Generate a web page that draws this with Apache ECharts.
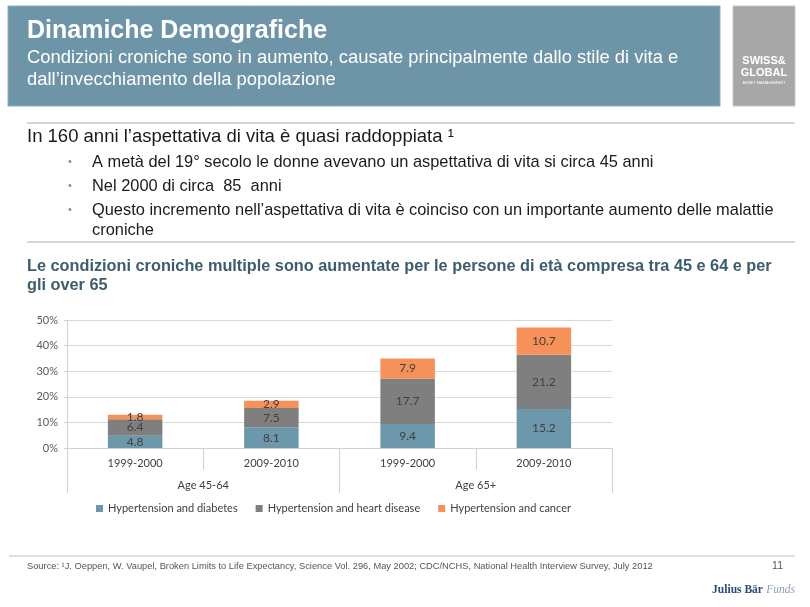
<!DOCTYPE html>
<html>
<head>
<meta charset="utf-8">
<script src="https://cdn.jsdelivr.net/npm/echarts@6/dist/echarts.min.js"></script>
<style>html,body{margin:0;padding:0;background:#fff}#c{width:810px;height:607px}</style>
</head>
<body>
<div id="c"></div>
<script>
var periods = ['1999-2000', '2009-2010', '1999-2000', '2009-2010'];
var groups = ['Age 45-64', 'Age 65+'];
var diabetes = [4.8, 8.1, 9.4, 15.2];
var heartDisease = [6.4, 7.5, 17.7, 21.2];
var cancer = [1.8, 2.9, 7.9, 10.7];
var seriesNames = ['Hypertension and diabetes', 'Hypertension and heart disease', 'Hypertension and cancer'];
var yTicks = [0, 10, 20, 30, 40, 50];

var SANS = '"Liberation Sans", Arial, sans-serif';
var CHART = 'Lato, "Open Sans", sans-serif';

function txt(x, y, text, size, color, weight, extra) {
  var s = {x: x, y: y, text: text, fill: color, font: (weight || 'normal') + ' ' + size + 'px ' + SANS, textVerticalAlign: 'middle'};
  if (extra) for (var k in extra) s[k] = extra[k];
  return {type: 'text', style: s, silent: true};
}
function line(x1, y1, x2, y2, color, w) {
  return {type: 'line', shape: {x1: x1, y1: y1, x2: x2, y2: y2}, style: {stroke: color, lineWidth: w || 1}, silent: true};
}

var chart = echarts.init(document.getElementById('c'));
var barLabel = {show: true, position: 'inside', color: '#404040', fontSize: 12, fontFamily: CHART};
chart.setOption({
  animation: false,
  graphic: [
    {type: 'rect', shape: {x: 8, y: 6, width: 712, height: 100}, style: {fill: '#6E94A8', stroke: '#8FAFC0', lineWidth: 1}, silent: true},
    {type: 'rect', shape: {x: 733, y: 6, width: 62, height: 100}, style: {fill: '#A7A7A7', stroke: '#C8C8C8', lineWidth: 1}, silent: true},
    txt(27, 31, 'Dinamiche Demografiche', 25, '#FFFFFF', 'bold'),
    txt(27, 58, 'Condizioni croniche sono in aumento, causate principalmente dallo stile di vita e', 18.4, '#FFFFFF'),
    txt(27, 80, 'dall\u2019invecchiamento della popolazione', 18.4, '#FFFFFF'),
    txt(764, 61, 'SWISS&', 11, '#FFFFFF', 'bold', {textAlign: 'center'}),
    txt(764, 73, 'GLOBAL', 11, '#FFFFFF', 'bold', {textAlign: 'center'}),
    txt(764, 83, 'ASSET MANAGEMENT', 4, '#FFFFFF', 'normal', {textAlign: 'center'}),
    line(27, 123, 795, 123, '#B0B0B0', 1),
    txt(27, 137, 'In 160 anni l\u2019aspettativa di vita \u00e8 quasi raddoppiata \u00b9', 18.5, '#1A1A1A'),
    txt(68, 162, '\u2022', 11, '#888888'),
    txt(92, 162, 'A met\u00e0 del 19\u00b0 secolo le donne avevano un aspettativa di vita si circa 45 anni', 16.4, '#1A1A1A'),
    txt(68, 186, '\u2022', 11, '#888888'),
    txt(92, 186, 'Nel 2000 di circa  85  anni', 16.4, '#1A1A1A'),
    txt(68, 210, '\u2022', 11, '#888888'),
    txt(92, 210, 'Questo incremento nell\u2019aspettativa di vita \u00e8 coinciso con un importante aumento delle malattie', 16.4, '#1A1A1A'),
    txt(92, 230, 'croniche', 16.4, '#1A1A1A'),
    line(27, 242, 795, 242, '#B0B0B0', 1),
    txt(27, 267, 'Le condizioni croniche multiple sono aumentate per le persone di et\u00e0 compresa tra 45 e 64 e per', 16.3, '#3D5C6D', 'bold'),
    txt(27, 286, 'gli over 65', 16.3, '#3D5C6D', 'bold'),
    line(9, 556, 795, 556, '#C0C0C0', 1),
    txt(27, 566, 'Source: \u00b9J. Oeppen, W. Vaupel, Broken Limits to Life Expectancy, Science Vol. 296, May 2002; CDC/NCHS, National Health Interview Survey, July 2012', 9.3, '#555555'),
    txt(783, 566, '11', 10.5, '#555555', 'normal', {textAlign: 'right'}),
    {type: 'text', silent: true, style: {x: 795, y: 590, textAlign: 'right', textVerticalAlign: 'middle',
      text: '{a|Julius B\u00e4r} {b|Funds}',
      rich: {a: {fontFamily: '"Liberation Serif", serif', fontWeight: 'bold', fontSize: 11.5, fill: '#2B4A78'},
             b: {fontFamily: '"Liberation Serif", serif', fontStyle: 'italic', fontSize: 11.5, fill: '#8E9CB3'}}}}
  ],
  grid: {left: 67, right: 198, top: 320, bottom: 159, containLabel: false},
  legend: {
    data: seriesNames, left: 91, top: 498, itemWidth: 7, itemHeight: 7, itemGap: 18, icon: 'rect',
    textStyle: {fontFamily: CHART, fontSize: 11, color: '#404040'}
  },
  xAxis: [
    {type: 'category', data: periods, position: 'bottom',
     axisLine: {lineStyle: {color: '#D0D0D0'}},
     axisTick: {show: true, interval: 0, length: 22, lineStyle: {color: '#D0D0D0'}},
     axisLabel: {margin: 10, fontFamily: CHART, fontSize: 11, color: '#404040', interval: 0}},
    {type: 'category', data: groups, position: 'bottom',
     axisLine: {show: false},
     axisTick: {show: true, interval: 0, length: 45, lineStyle: {color: '#D0D0D0'}},
     axisLabel: {margin: 32, fontFamily: CHART, fontSize: 11, color: '#404040', interval: 0}}
  ],
  yAxis: {
    type: 'value', min: yTicks[0], max: yTicks[yTicks.length - 1], interval: 10,
    axisLine: {show: true, lineStyle: {color: '#D0D0D0'}},
    axisTick: {show: true, length: 3, lineStyle: {color: '#D0D0D0'}},
    splitLine: {lineStyle: {color: '#D9D9D9'}},
    axisLabel: {formatter: '{value}%', margin: 9, fontFamily: CHART, fontSize: 11, color: '#595959'}
  },
  series: [
    {name: seriesNames[0], type: 'bar', stack: 'total', data: diabetes, barWidth: '40%', itemStyle: {color: '#6D98AB'}, label: barLabel},
    {name: seriesNames[1], type: 'bar', stack: 'total', data: heartDisease, barWidth: '40%', itemStyle: {color: '#7F7F7F'}, label: barLabel},
    {name: seriesNames[2], type: 'bar', stack: 'total', data: cancer, barWidth: '40%', itemStyle: {color: '#F6915A'}, label: barLabel}
  ]
});
</script>
</body>
</html>
